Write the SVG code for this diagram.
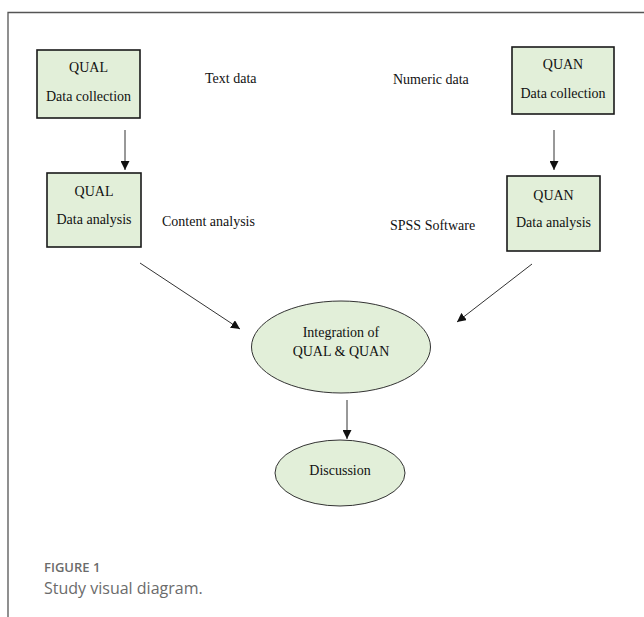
<svg xmlns="http://www.w3.org/2000/svg" width="644" height="617" viewBox="0 0 644 617">
<style>
.box{fill:#e2efd9;stroke:#1a1a1a;stroke-width:1.6}
.ell{fill:#e2efd9;stroke:#333;stroke-width:1}
.t{font-family:"Liberation Serif",serif;font-size:14px;fill:#111;text-anchor:middle}
.l{font-family:"Liberation Serif",serif;font-size:14px;fill:#111}
.c{stroke:#333;stroke-width:1;fill:none;marker-end:url(#ah)}
.frame{stroke:#555;stroke-width:1.3;fill:none}
.cap1{font-family:"Open Sans",sans-serif;font-size:13px;font-weight:600;fill:#6b6b6b}
.cap2{font-family:"Open Sans",sans-serif;font-size:16px;fill:#6b6b6b}
</style>
<defs>
<marker id="ah" viewBox="0 0 10 10" refX="10" refY="5" markerWidth="9" markerHeight="9" markerUnits="userSpaceOnUse" orient="auto">
<path d="M0,0 L10,5 L0,10 z" fill="#111"/>
</marker>
</defs>
<rect width="644" height="617" fill="#fff"/>
<path class="frame" d="M8,617 V12.5 H644"/>
<g id="connectors">
<line class="c" x1="125" y1="130" x2="125" y2="170"/>
<line class="c" x1="554" y1="130" x2="554" y2="170"/>
<line class="c" x1="140" y1="263" x2="240" y2="329"/>
<line class="c" x1="532" y1="264" x2="457" y2="322"/>
<line class="c" x1="347" y1="400" x2="347" y2="439"/>
</g>
<g id="qual-collection">
<rect class="box" x="37" y="50" width="103" height="68"/>
<text class="t" x="88.5" y="72">QUAL</text>
<text class="t" x="88.5" y="101">Data collection</text>
</g>
<g id="quan-collection">
<rect class="box" x="512" y="47" width="102" height="67"/>
<text class="t" x="563" y="69">QUAN</text>
<text class="t" x="563" y="98">Data collection</text>
</g>
<g id="qual-analysis">
<rect class="box" x="47" y="173" width="94" height="74"/>
<text class="t" x="94" y="196">QUAL</text>
<text class="t" x="94" y="224">Data analysis</text>
</g>
<g id="quan-analysis">
<rect class="box" x="507" y="176" width="93" height="75"/>
<text class="t" x="553.5" y="200">QUAN</text>
<text class="t" x="553.5" y="227">Data analysis</text>
</g>
<g id="labels">
<text class="l" x="205" y="83">Text data</text>
<text class="l" x="393" y="84">Numeric data</text>
<text class="l" x="162" y="226">Content analysis</text>
<text class="l" x="390" y="230">SPSS Software</text>
</g>
<g id="integration">
<ellipse class="ell" cx="341" cy="347" rx="89.5" ry="46"/>
<text class="t" x="341" y="337">Integration of</text>
<text class="t" x="341" y="356">QUAL &amp; QUAN</text>
</g>
<g id="discussion">
<ellipse class="ell" cx="340" cy="473" rx="65" ry="33"/>
<text class="t" x="340" y="475">Discussion</text>
</g>
<g id="caption">
<text class="cap1" x="44" y="572">FIGURE 1</text>
<text class="cap2" x="44" y="594">Study visual diagram.</text>
</g>
</svg>
